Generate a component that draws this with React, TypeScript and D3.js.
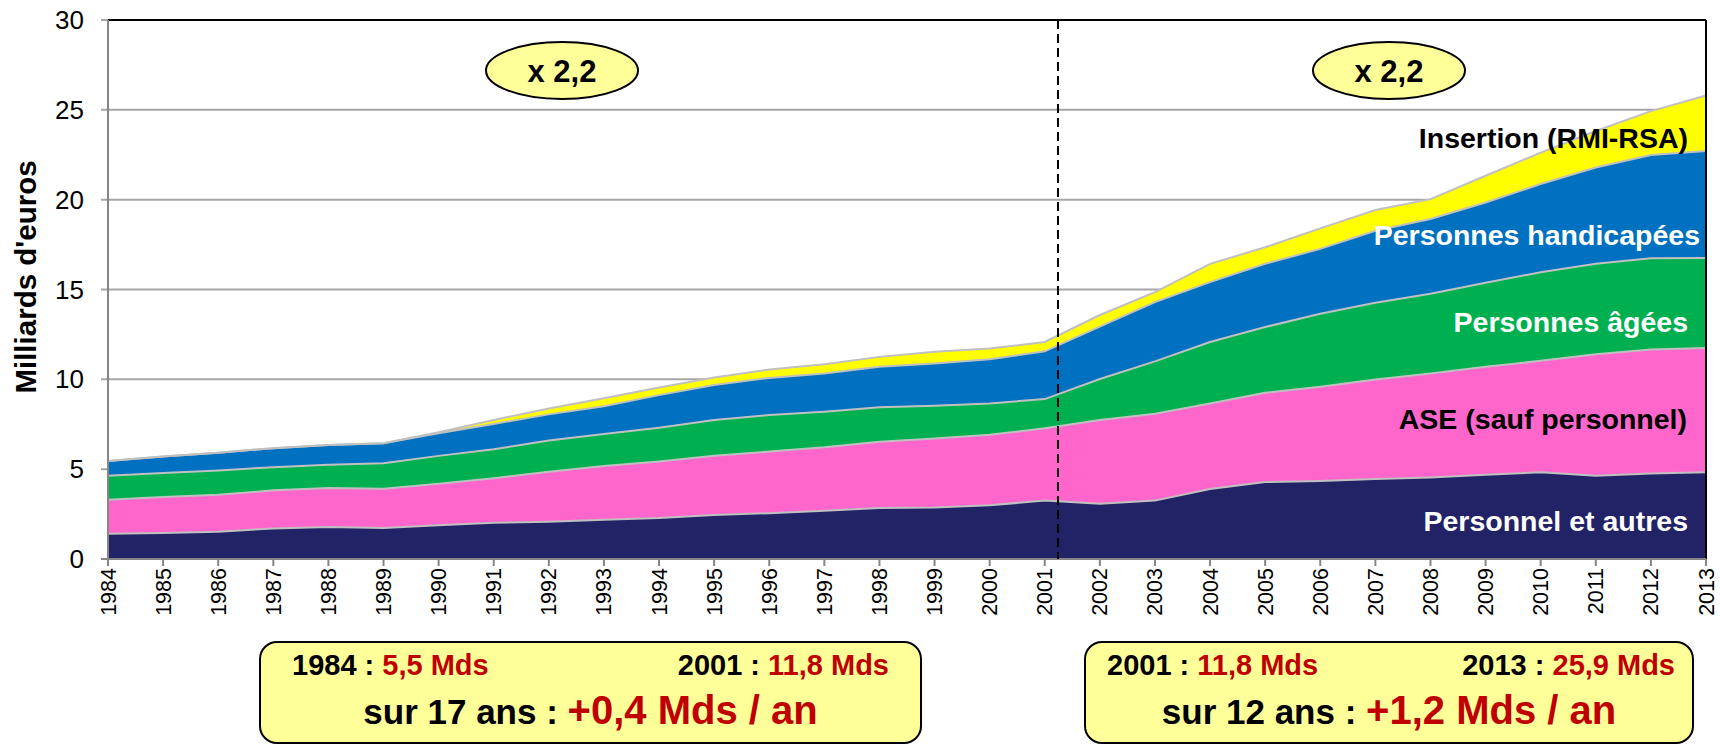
import React from "react";
import * as d3 from "d3";

const years = d3.range(1984, 2014);
const personnel = [1.40,1.45,1.52,1.70,1.78,1.72,1.88,2.02,2.08,2.19,2.28,2.45,2.55,2.68,2.84,2.86,2.99,3.25,3.08,3.25,3.89,4.28,4.34,4.45,4.54,4.69,4.83,4.63,4.76,4.83];
const ase = [1.90,2.00,2.06,2.12,2.17,2.19,2.31,2.48,2.77,2.98,3.15,3.29,3.43,3.54,3.69,3.84,3.92,4.03,4.66,4.84,4.77,4.97,5.25,5.54,5.79,6.01,6.20,6.77,6.90,6.92];
const agees = [1.33,1.33,1.35,1.29,1.29,1.42,1.55,1.61,1.74,1.79,1.88,2.00,2.03,1.98,1.91,1.83,1.75,1.62,2.28,2.91,3.42,3.66,4.06,4.27,4.43,4.68,4.93,5.03,5.08,5.01];
const handicap = [0.83,0.92,0.99,1.06,1.11,1.11,1.26,1.41,1.46,1.54,1.81,1.94,2.07,2.13,2.26,2.35,2.46,2.66,2.91,3.30,3.33,3.52,3.61,4.01,4.16,4.46,4.91,5.36,5.75,5.95];
const insertion = [0,0,0,0,0,0,0.05,0.22,0.33,0.45,0.43,0.42,0.47,0.51,0.55,0.65,0.59,0.52,0.65,0.55,1.02,0.92,1.14,1.15,1.11,1.49,1.75,2.03,2.44,3.09];

const seriesKeys = ["personnel", "ase", "agees", "handicap", "insertion"];
const seriesColors = ["#222266", "#FF66CC", "#00B050", "#0070C0", "#FFFF00"];
const seriesLabels = ["Personnel et autres", "ASE (sauf personnel)", "Personnes âgées", "Personnes handicapées", "Insertion (RMI-RSA)"];
const labelColors = ["#FFFFFF", "#000000", "#FFFFFF", "#FFFFFF", "#000000"];
const labelValues = [2.1, 7.8, 13.2, 18.05, 23.45];
const labelRight = [1688, 1687, 1688, 1700, 1688];

const yTicks = [0, 5, 10, 15, 20, 25, 30];
const splitYear = 2001.24;

const FONT = "'Liberation Sans', Arial, Helvetica, sans-serif";

export default function App() {
  const W = 1720, H = 745;
  const x = d3.scaleLinear().domain([1984, 2013]).range([108, 1706]);
  const y = d3.scaleLinear().domain([0, 30]).range([559, 20]);

  const table = years.map((yr, i) => ({
    year: yr,
    personnel: personnel[i],
    ase: ase[i],
    agees: agees[i],
    handicap: handicap[i],
    insertion: insertion[i],
  }));
  const stacked = d3.stack<any>().keys(seriesKeys)(table);
  const area = d3.area<any>().x((d) => x(d.data.year)).y0((d) => y(d[0])).y1((d) => y(d[1]));
  const topLine = d3.line<any>().x((d) => x(d.data.year)).y((d) => y(d[1]));

  const ellipses = [
    { cx: 562, cy: 70.5, text: "x 2,2" },
    { cx: 1389, cy: 70.5, text: "x 2,2" },
  ];

  const boxes = [
    { x0: 260, x1: 921, a: "1984 : ", av: "5,5 Mds", b: "2001 : ", bv: "11,8 Mds", c: "sur 17 ans : ", cv: "+0,4 Mds / an", padL: 32, padR: 32 },
    { x0: 1085, x1: 1693, a: "2001 : ", av: "11,8 Mds", b: "2013 : ", bv: "25,9 Mds", c: "sur 12 ans : ", cv: "+1,2 Mds / an", padL: 22, padR: 18 },
  ];

  return (
    <div style={{ position: "absolute", left: 0, top: 0, width: W, height: H, overflow: "hidden", background: "#fff" }}>
      <svg width={W} height={H} style={{ display: "block" }} fontFamily={FONT}>
        <rect x={0} y={0} width={W} height={H} fill="#fff" />
        {yTicks.map((t) => (
          <line key={"g" + t} x1={x(1984) - 7} x2={x(2013)} y1={y(t)} y2={y(t)} stroke="#A6A6A6" strokeWidth={2} />
        ))}
        {stacked.map((s, i) => (
          <path key={"a" + i} d={area(s) || ""} fill={seriesColors[i]} />
        ))}
        {stacked.map((s, i) => (
          <path key={"l" + i} d={topLine(s) || ""} fill="none" stroke="#C0C0C0" strokeWidth={2} />
        ))}
        <line x1={x(1984)} x2={x(2013)} y1={y(30)} y2={y(30)} stroke="#000" strokeWidth={2} />
        <line x1={x(2013)} x2={x(2013)} y1={y(30)} y2={y(0)} stroke="#000" strokeWidth={2} />
        <line x1={x(1984)} x2={x(1984)} y1={y(30)} y2={y(0) + 7} stroke="#868686" strokeWidth={2} />
        <line x1={x(1984) - 7} x2={x(2013)} y1={y(0)} y2={y(0)} stroke="#868686" strokeWidth={2} />
        {years.map((yr) => (
          <line key={"t" + yr} x1={x(yr)} x2={x(yr)} y1={y(0)} y2={y(0) + 7} stroke="#868686" strokeWidth={2} />
        ))}
        {yTicks.map((t) => (
          <text key={"yl" + t} x={84} y={y(t) + 9} textAnchor="end" fontSize={26} fill="#000">{t}</text>
        ))}
        {years.map((yr) => (
          <text key={"xl" + yr} transform={`translate(${x(yr) + 7.5},568) rotate(-90)`} textAnchor="end" fontSize={21.5} fill="#000">{yr}</text>
        ))}
        <text transform="translate(36,277) rotate(-90)" textAnchor="middle" fontSize={29.5} fontWeight="bold" fill="#000">Milliards  d'euros</text>

        <line x1={x(splitYear)} x2={x(splitYear)} y1={y(30)} y2={y(0)} stroke="#000" strokeWidth={2} strokeDasharray="9,5" />

        {seriesLabels.map((lab, i) => (
          <text key={"sl" + i} x={labelRight[i]} y={y(labelValues[i]) + 10} textAnchor="end" fontSize={28.5} fontWeight="bold" fill={labelColors[i]}>{lab}</text>
        ))}

        {ellipses.map((e, i) => (
          <g key={"e" + i}>
            <ellipse cx={e.cx} cy={e.cy} rx={76} ry={28.5} fill="#FFFF99" stroke="#000" strokeWidth={2} />
            <text x={e.cx} y={e.cy + 11} textAnchor="middle" fontSize={31} fontWeight="bold" fill="#000">{e.text}</text>
          </g>
        ))}

        {boxes.map((b, i) => (
          <g key={"b" + i}>
            <rect x={b.x0} y={642} width={b.x1 - b.x0} height={101} rx={17} ry={17} fill="#FFFF99" stroke="#000" strokeWidth={2} />
            <text x={b.x0 + b.padL} y={675} fontSize={29} fontWeight="bold" fill="#000">
              {b.a}<tspan fill="#C00000">{b.av}</tspan>
            </text>
            <text x={b.x1 - b.padR} y={675} textAnchor="end" fontSize={29} fontWeight="bold" fill="#000">
              {b.b}<tspan fill="#C00000">{b.bv}</tspan>
            </text>
            <text x={(b.x0 + b.x1) / 2} y={724} textAnchor="middle" fontWeight="bold" fill="#000">
              <tspan fontSize={35}>{b.c}</tspan><tspan fontSize={40} fill="#C00000">{b.cv}</tspan>
            </text>
          </g>
        ))}
      </svg>
    </div>
  );
}
